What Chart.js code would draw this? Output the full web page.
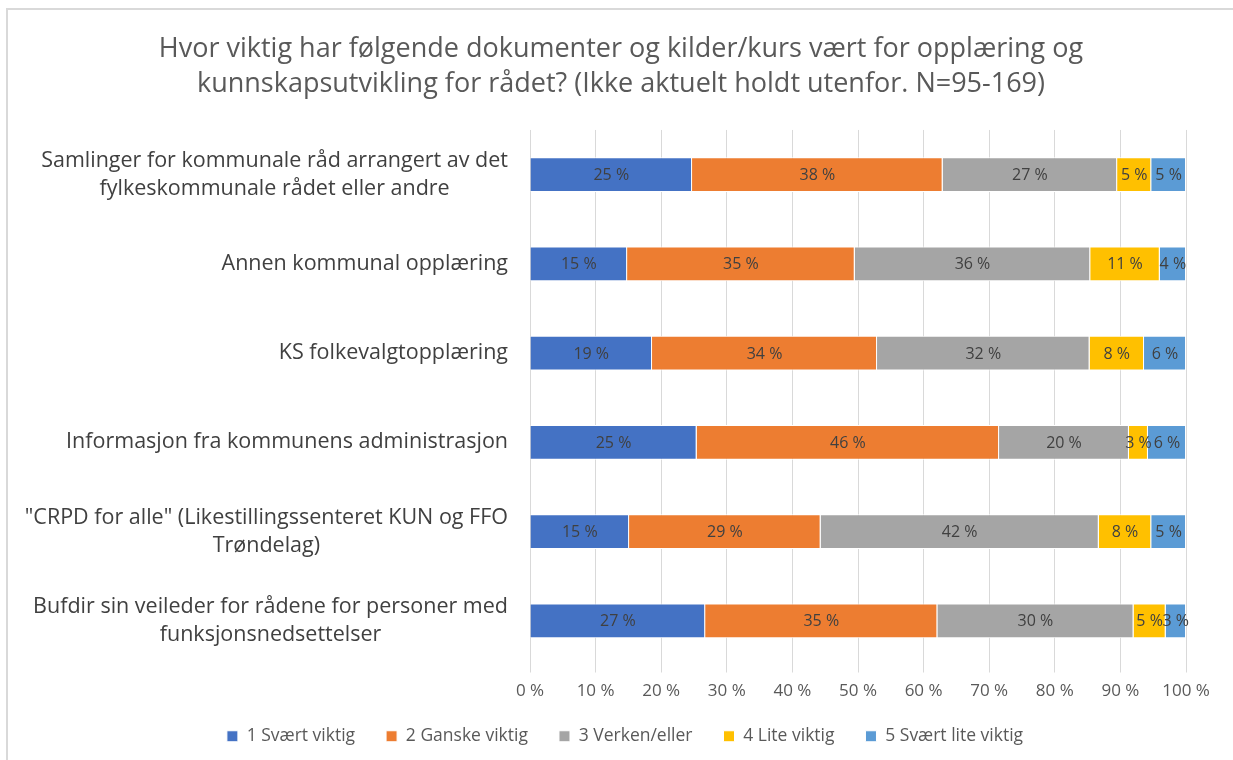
<!DOCTYPE html>
<html>
<head>
<meta charset="utf-8">
<script src="https://cdn.jsdelivr.net/npm/chart.js@4.4.1/dist/chart.umd.min.js"></script>
<style>
  html, body { margin: 0; padding: 0; background: #fff; }
  #wrap { position: relative; width: 1233px; height: 760px; overflow: hidden; }
  #frame { position: absolute; left: 6px; top: 8px; width: 1240px; height: 800px;
           border-left: 2px solid #d9d9d9; border-top: 2px solid #d9d9d9; box-sizing: border-box; }
  canvas { position: absolute; left: 0; top: 0; }
</style>
</head>
<body>
<div id="wrap">
  <div id="frame"></div>
  <canvas id="c" width="1233" height="760"></canvas>
</div>
<script>
const categories = [
  ["Samlinger for kommunale råd arrangert av det", "fylkeskommunale rådet eller andre"],
  "Annen kommunal opplæring",
  "KS folkevalgtopplæring",
  "Informasjon fra kommunens administrasjon",
  ["\"CRPD for alle\" (Likestillingssenteret KUN og FFO", "Trøndelag)"],
  ["Bufdir sin veileder for rådene for personer med", "funksjonsnedsettelser"]
];
const seriesNames = ["1 Svært viktig", "2 Ganske viktig", "3 Verken/eller", "4 Lite viktig", "5 Svært lite viktig"];
const svaertViktig     = [24.7, 14.8, 18.6, 25.4, 15.1, 26.7];
const ganskeViktig     = [38.2, 34.7, 34.3, 46.1, 29.2, 35.4];
const verkenEller      = [26.6, 35.9, 32.4, 19.8, 42.4, 29.9];
const liteViktig       = [5.2, 10.6, 8.3, 2.9, 8.0, 4.9];
const svaertLiteViktig = [5.3, 4.0, 6.4, 5.8, 5.3, 3.1];
const xTicks = [0, 10, 20, 30, 40, 50, 60, 70, 80, 90, 100];
const titleLines = [
  "Hvor viktig har følgende dokumenter og kilder/kurs vært for opplæring og",
  "kunnskapsutvikling for rådet? (Ikke aktuelt holdt utenfor. N=95-169)"
];

const colors = ["#4472C4", "#ED7D31", "#A5A5A5", "#FFC000", "#5B9BD5"];
const seriesData = [svaertViktig, ganskeViktig, verkenEller, liteViktig, svaertLiteViktig];

const FONT = "'Open Sans', Lato, sans-serif";

const labelPlugin = {
  id: 'barLabels',
  afterDatasetsDraw(chart) {
    const ctx = chart.ctx;
    ctx.save();
    ctx.font = "16px " + FONT;
    ctx.fillStyle = "#404040";
    ctx.textAlign = "center";
    ctx.textBaseline = "middle";
    chart.data.datasets.forEach((ds, di) => {
      const meta = chart.getDatasetMeta(di);
      meta.data.forEach((el, i) => {
        const v = ds.data[i];
        const p = el.getProps(['x', 'y', 'base'], true);
        const cx = (p.x + p.base) / 2;
        ctx.fillText(Math.round(v) + " %", cx, p.y + 1);
      });
    });
    ctx.restore();
  }
};

// category labels: block right-aligned, lines centred within the block
const catLabelPlugin = {
  id: 'catLabels',
  afterDraw(chart) {
    const ctx = chart.ctx;
    const yScale = chart.scales.y;
    const right = chart.chartArea.left - 22;
    const lh = 28;
    ctx.save();
    ctx.font = "21.5px " + FONT;
    ctx.fillStyle = "#404040";
    ctx.textAlign = "center";
    ctx.textBaseline = "middle";
    chart.data.labels.forEach((lab, i) => {
      const lines = Array.isArray(lab) ? lab : [lab];
      const maxW = Math.max(...lines.map(l => ctx.measureText(l).width));
      const cx = right - maxW / 2;
      const cy = yScale.getPixelForTick(i);
      lines.forEach((l, j) => {
        ctx.fillText(l, cx, cy + (j - (lines.length - 1) / 2) * lh);
      });
    });
    ctx.restore();
  }
};

// shift title and legend so they are centred like the reference
const shiftPlugin = {
  id: 'shiftBlocks',
  afterLayout(chart) {
    if (chart.titleBlock) { chart.titleBlock.left += 56; }
    if (chart.legend) { chart.legend.left += 64; }
  }
};

new Chart(document.getElementById('c'), {
  type: 'bar',
  data: {
    labels: categories,
    datasets: seriesData.map((d, i) => ({
      label: seriesNames[i],
      data: d,
      backgroundColor: colors[i],
      borderColor: "#ffffff",
      borderWidth: 1,
      barPercentage: 0.39,
      categoryPercentage: 1.0
    }))
  },
  options: {
    indexAxis: 'y',
    responsive: false,
    animation: false,
    layout: { padding: { left: 0, right: 47, top: 18, bottom: 5 } },
    scales: {
      x: {
        stacked: true,
        min: 0, max: 100,
        afterBuildTicks: (s) => { s.ticks = xTicks.map(v => ({ value: v })); },
        afterFit: (s) => { s.height = 31; },
        grid: { color: "#d9d9d9", lineWidth: 1, drawTicks: true, tickLength: 7 },
        border: { display: false },
        ticks: {
          callback: (v) => v + " %",
          font: { family: FONT, size: 17 },
          color: "#595959",
          padding: 8,
          maxRotation: 0
        }
      },
      y: {
        stacked: true,
        grid: { display: false, drawTicks: false },
        border: { display: false },
        afterFit: (s) => { s.width = 530; },
        ticks: { display: false }
      }
    },
    plugins: {
      title: {
        display: true,
        text: titleLines,
        color: "#595959",
        font: { family: FONT, size: 27, weight: 'normal', lineHeight: 1.296 },
        padding: { top: 14, bottom: 28 }
      },
      legend: {
        position: 'bottom',
        labels: {
          boxWidth: 11,
          boxHeight: 11,
          color: "#595959",
          font: { family: FONT, size: 17.5 },
          padding: 31
        }
      },
      tooltip: { enabled: false }
    }
  },
  plugins: [labelPlugin, catLabelPlugin, shiftPlugin]
});
</script>
</body>
</html>
